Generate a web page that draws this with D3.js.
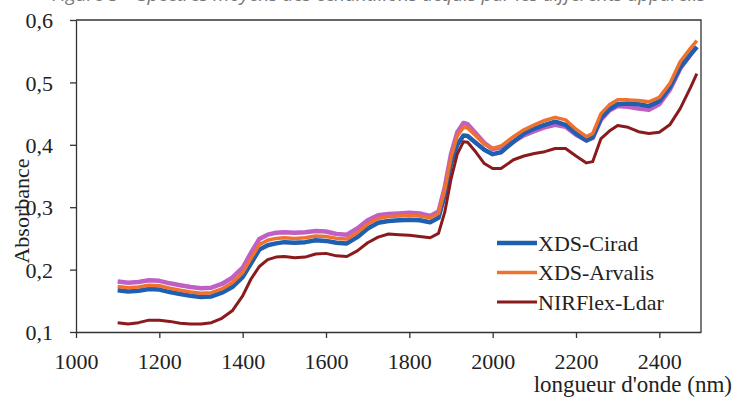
<!DOCTYPE html>
<html>
<head>
<meta charset="utf-8">
<script src="https://cdn.jsdelivr.net/npm/d3@7"></script>
<style>
  body { margin: 0; background: #fff; }
  svg { display: block; }
  .axis text { font-family: "Liberation Serif", "Times New Roman", serif; font-size: 22px; fill: #222; }
  .axis path, .axis line { stroke: #333; stroke-width: 1.3; }
</style>
</head>
<body>
<div></div>
<script>
// wavelengths (nm) shared by all series
var wavelengths = [1100,1125,1150,1175,1200,1225,1250,1275,1300,1325,1350,1375,1400,1420,1440,1460,1480,1500,1525,1550,1575,1600,1625,1650,1675,1700,1725,1750,1775,1800,1825,1850,1870,1885,1900,1915,1930,1940,1960,1980,2000,2020,2050,2075,2100,2125,2150,2175,2200,2225,2240,2260,2280,2300,2325,2350,2375,2400,2425,2450,2475,2490];

var xdsCirad = [.167,.165,.166,.169,.168,.164,.161,.158,.156,.157,.163,.172,.188,.210,.232,.239,.242,.244,.243,.244,.247,.246,.243,.242,.252,.266,.275,.278,.279,.280,.279,.276,.283,.320,.370,.400,.415,.414,.403,.392,.385,.388,.405,.418,.426,.432,.437,.432,.418,.407,.412,.443,.457,.465,.466,.465,.462,.470,.492,.524,.545,.557];

var xdsArvalis = [.173,.171,.172,.175,.174,.170,.167,.164,.162,.163,.169,.179,.195,.218,.240,.247,.250,.251,.250,.251,.254,.253,.250,.249,.259,.273,.282,.285,.286,.287,.286,.283,.290,.328,.380,.414,.428,.427,.414,.401,.394,.398,.413,.424,.432,.439,.444,.440,.425,.413,.418,.450,.464,.472,.472,.471,.469,.476,.498,.533,.555,.567];

// fourth spectrum, drawn but not in the legend
var fourth = [.181,.179,.180,.183,.182,.178,.175,.172,.170,.171,.177,.187,.203,.227,.249,.256,.259,.260,.259,.260,.262,.261,.257,.256,.266,.279,.287,.289,.290,.291,.290,.286,.293,.332,.385,.420,.435,.433,.418,.403,.393,.396,.405,.415,.422,.428,.432,.429,.416,.407,.411,.440,.455,.462,.461,.458,.456,.465,.488,.522,.545,.557];

var nirflexLdar = [.115,.113,.115,.119,.119,.117,.114,.113,.113,.115,.122,.134,.158,.185,.205,.216,.220,.221,.219,.220,.225,.226,.222,.221,.230,.243,.252,.257,.256,.255,.253,.251,.258,.292,.345,.385,.405,.404,.388,.370,.362,.362,.376,.382,.386,.389,.394,.394,.382,.371,.373,.410,.422,.431,.428,.421,.418,.420,.432,.458,.492,.514];

var xTicks = [1000,1200,1400,1600,1800,2000,2200,2400];
var yTicks = [0.1,0.2,0.3,0.4,0.5,0.6];
var legendNames = ["XDS-Cirad","XDS-Arvalis","NIRFlex-Ldar"];

var series = [
  {name: null, values: fourth, color: "#c060c4", w: 4.5},
  {name: "XDS-Cirad", values: xdsCirad, color: "#1f5fb0", w: 4.5},
  {name: "XDS-Arvalis", values: xdsArvalis, color: "#f0702e", w: 3.5},
  {name: "NIRFlex-Ldar", values: nirflexLdar, color: "#8a1a1c", w: 3}
];

// set the dimensions and margins of the graph
var margin = {top: 20, right: 34, bottom: 72, left: 76},
    width = 735 - margin.left - margin.right,
    height = 404 - margin.top - margin.bottom;

var x = d3.scaleLinear().domain([1000, 2500]).range([0, width]);
var y = d3.scaleLinear().domain([0.1, 0.6]).range([height, 0]);

var svg = d3.select("body").select("div").append("svg")
    .attr("width", 735)
    .attr("height", 404);

// caption cut off at the top of the picture (as in the source)
svg.append("text")
    .attr("x", 52).attr("y", 1)
    .style("font-family", "'Open Sans', sans-serif")
    .style("font-style", "italic")
    .style("font-size", "19px")
    .style("fill", "#777")
    .text("Figure 3 – Spectres moyens des échantillons acquis par les différents appareils");

var g = svg.append("g")
    .attr("transform", "translate(" + margin.left + "," + margin.top + ")");

// frame top and right
g.append("path")
    .attr("d", "M0,0H" + width + "V" + height)
    .attr("fill", "none")
    .attr("stroke", "#333")
    .attr("stroke-width", 1.3);

var line = d3.line()
    .x(function(d, i) { return x(wavelengths[i]); })
    .y(function(d) { return y(d); });

series.forEach(function(s) {
  g.append("path")
    .datum(s.values)
    .attr("fill", "none")
    .attr("stroke", s.color)
    .attr("stroke-width", s.w)
    .attr("stroke-linejoin", "round")
    .attr("d", line);
});

// Add the X Axis
g.append("g")
    .attr("class", "axis")
    .attr("transform", "translate(0," + height + ")")
    .call(d3.axisBottom(x).tickValues(xTicks).tickSize(6).tickSizeOuter(0).tickPadding(10).tickFormat(d3.format("d")))
    .call(function(a) { a.selectAll("text").attr("dy", "0.95em"); });

// Add the Y Axis
g.append("g")
    .attr("class", "axis")
    .call(d3.axisLeft(y).tickValues(yTicks).tickSize(6).tickSizeOuter(0).tickPadding(17)
      .tickFormat(function(d) { return d3.format(".1f")(d).replace(".", ","); }))
    .call(function(a) { a.selectAll("text").attr("dy", "0.35em"); });

// axis titles
svg.append("text")
    .attr("x", 732).attr("y", 392)
    .attr("text-anchor", "end")
    .style("font-family", "'Liberation Serif', serif")
    .style("font-size", "23px")
    .style("fill", "#222")
    .text("longueur d'onde (nm)");

svg.append("text")
    .attr("transform", "translate(29,211) rotate(-90)")
    .attr("text-anchor", "middle")
    .style("font-family", "'Liberation Serif', serif")
    .style("font-size", "22px")
    .style("fill", "#222")
    .text("Absorbance");

// legend
var legend = svg.append("g").attr("transform", "translate(497,243)");
legendNames.forEach(function(name, i) {
  var s = series.filter(function(d) { return d.name === name; })[0];
  var row = legend.append("g").attr("transform", "translate(0," + (i * 29.5) + ")");
  row.append("line")
    .attr("x1", 0).attr("x2", 40)
    .attr("stroke", s.color)
    .attr("stroke-width", s.w);
  row.append("text")
    .attr("x", 41).attr("y", 7.5)
    .style("font-family", "'Liberation Serif', serif")
    .style("font-size", "22px")
    .style("fill", "#222")
    .text(name);
});
</script>
</body>
</html>
